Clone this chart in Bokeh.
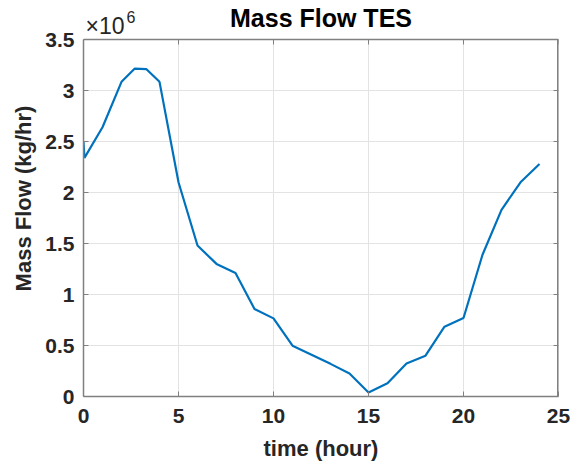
from bokeh.plotting import figure
from bokeh.models import FixedTicker, Range1d, Label
from bokeh.embed import file_html
from bokeh.resources import INLINE

# time (hour)
time_h = [0, 0.05, 1, 2, 2.7, 3.3, 4, 5, 6, 7, 8, 9, 10, 11, 12, 13, 14, 15, 16, 17, 18, 19, 20, 21, 22, 23, 24]
# mass flow in units of 1e6 kg/hr
mass_flow_e6 = [2.50, 2.34, 2.64, 3.085, 3.215, 3.21, 3.085, 2.10, 1.48, 1.30, 1.21, 0.858, 0.766, 0.498,
                0.41, 0.32, 0.226, 0.04, 0.13, 0.324, 0.40, 0.685, 0.77, 1.39, 1.83, 2.10, 2.28]

x_ticks = [0, 5, 10, 15, 20, 25]
y_ticks = [0, 0.5, 1, 1.5, 2, 2.5, 3, 3.5]
y_tick_labels = ["0", "0.5", "1", "1.5", "2", "2.5", "3", "3.5"]
title_text = "Mass Flow TES"
x_label = "time (hour)"
y_label = "Mass Flow (kg/hr)"

FONT = "Liberation Sans"
AXIS_COLOR = "#808080"
GRID_COLOR = "#e3e3e3"
X0, X1, Y0, Y1 = 0, 25, 0, 3.5
W, H = 582, 463
LEFT, RIGHT, BOTTOM = 83, 24, 67       # borders (px)
BOX_TOP_PX = 39                         # top edge of the axes box from canvas top
FRAME_W = W - LEFT - RIGHT              # 475
FRAME_H = H - BOTTOM                    # 396 (frame reaches canvas top so texts above the box are not clipped)
BOX_H = FRAME_H - BOX_TOP_PX            # 357
Y_TOP = Y0 + (Y1 - Y0) * FRAME_H / BOX_H
TICK_PX = 5

p = figure(width=W, height=H, output_backend="svg", toolbar_location=None, title=None,
           x_range=Range1d(X0, X1), y_range=Range1d(Y0, Y_TOP),
           min_border_left=LEFT, min_border_right=RIGHT, min_border_top=0, min_border_bottom=BOTTOM)
p.background_fill_color = "white"
p.border_fill_color = "white"
p.outline_line_color = None

# grid (vertical lines limited to the axes box)
p.xgrid.grid_line_color = None
p.ygrid.grid_line_color = GRID_COLOR
p.ygrid.ticker = FixedTicker(ticks=y_ticks)
p.segment(x0=x_ticks, y0=[Y0] * len(x_ticks), x1=x_ticks, y1=[Y1] * len(x_ticks),
          line_color=GRID_COLOR, line_width=1, level="underlay")

p.line(time_h, mass_flow_e6, line_color="#0072BD", line_width=2.2)

# box: top and right edges
p.segment(x0=[X0], y0=[Y1], x1=[X1], y1=[Y1], line_color=AXIS_COLOR, line_width=1.5)
p.segment(x0=[X1], y0=[Y0], x1=[X1], y1=[Y1], line_color=AXIS_COLOR, line_width=3)

# inward box ticks on top and right edges
dy = TICK_PX * (Y1 - Y0) / BOX_H
dx = TICK_PX * (X1 - X0) / FRAME_W
p.segment(x0=x_ticks, y0=[Y1] * len(x_ticks), x1=x_ticks, y1=[Y1 - dy] * len(x_ticks),
          line_color=AXIS_COLOR, line_width=1)
p.segment(x0=[X1] * len(y_ticks), y0=y_ticks, x1=[X1 - dx] * len(y_ticks), y1=y_ticks,
          line_color=AXIS_COLOR, line_width=1)

for ax in [p.xaxis[0], p.yaxis[0]]:
    ax.major_label_text_font = FONT
    ax.major_label_text_font_size = "21px"
    ax.major_label_text_font_style = "bold"
    ax.major_label_text_color = "#262626"
    ax.axis_label_text_font = FONT
    ax.axis_label_text_font_size = "22px"
    ax.axis_label_text_font_style = "bold"
    ax.axis_label_text_color = "#262626"
    ax.axis_line_color = AXIS_COLOR
    ax.axis_line_width = 1.5
    ax.major_tick_line_color = AXIS_COLOR
    ax.major_tick_in = TICK_PX
    ax.major_tick_out = 0
    ax.minor_tick_line_color = None

p.xaxis[0].ticker = FixedTicker(ticks=x_ticks)
p.yaxis[0].ticker = FixedTicker(ticks=y_ticks)
p.yaxis[0].bounds = (Y0, Y1)
p.yaxis[0].major_label_overrides = {t: s for t, s in zip(y_ticks, y_tick_labels)}
p.xaxis[0].axis_label = x_label
p.yaxis[0].axis_label = y_label
p.xaxis[0].major_label_standoff = 12
p.yaxis[0].major_label_standoff = 9
p.xaxis[0].axis_label_standoff = 10
p.yaxis[0].axis_label_standoff = 6

# title and exponent label, inside the (extended) frame above the axes box
p.add_layout(Label(x=FRAME_W / 2, y=FRAME_H - 17, x_units="screen", y_units="screen", text=title_text,
                   text_font=FONT, text_font_size="25px", text_font_style="bold",
                   text_color="#000000", text_align="center", text_baseline="alphabetic"))
p.add_layout(Label(x=2, y=FRAME_H - 25, x_units="screen", y_units="screen", text="×10",
                   text_font=FONT, text_font_size="23px", text_color="#262626",
                   text_baseline="alphabetic"))
p.add_layout(Label(x=43, y=FRAME_H - 16, x_units="screen", y_units="screen", text="6",
                   text_font=FONT, text_font_size="16px", text_color="#262626",
                   text_baseline="alphabetic"))

open("out.html", "w").write(file_html(p, INLINE))
